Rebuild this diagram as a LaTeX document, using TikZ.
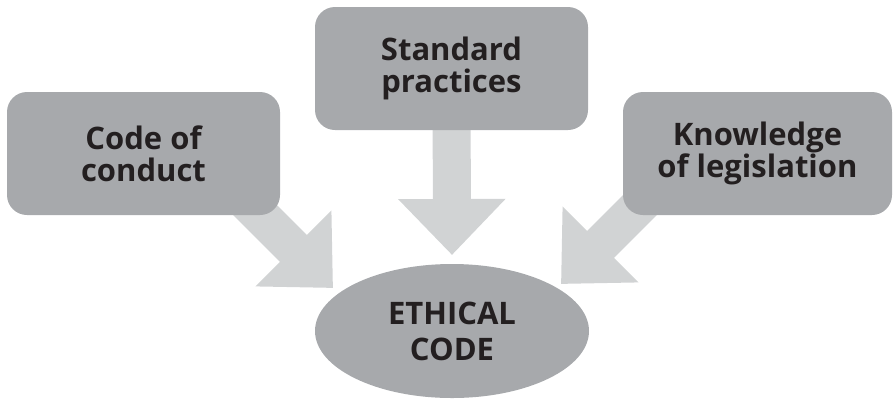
\documentclass[tikz,border=0pt]{standalone}
\usepackage{fontspec}
\setmainfont{Open Sans}
\usetikzlibrary{arrows.meta,backgrounds,calc,shapes.geometric}
\definecolor{boxgray}{HTML}{A7A9AC}
\definecolor{arrowgray}{HTML}{D1D3D4}
\definecolor{inkblack}{HTML}{231F20}

\begin{document}
\begin{tikzpicture}[x=1pt, y=-1pt,
    cause/.style={rectangle, rounded corners=20pt, fill=boxgray, text=inkblack,
      minimum width=273pt, minimum height=123pt, align=center,
      font=\fontsize{31}{32}\selectfont\bfseries},
    core/.style={ellipse, fill=boxgray, text=inkblack, inner sep=0pt,
      minimum width=274pt, minimum height=134pt, align=center,
      font=\fontsize{31}{36}\selectfont\bfseries},
    fatarrow/.style={arrowgray, line width=38pt,
      -{Triangle[length=56pt, width=104pt]}}]
    \useasboundingbox (0, 0) rectangle (893, 400);

    \node [cause] (cond) at (143.5, 153.5) {Code of\\conduct};
    \node [cause] (std) at (451.5, 68.5) {Standard\\practices};
    \node [cause, minimum width=269pt] (legis) at (757.5, 153.5) {Knowledge\\of legislation};
    \node [core] (ethic) at (452, 331) {ETHICAL\\CODE};

    \coordinate (tipC) at (333, 288);
    \coordinate (tipS) at (452, 255);
    \coordinate (tipL) at (561, 284);

    \begin{scope}[on background layer]
      \draw [fatarrow] ($(cond.center)+(55, 0)$) -- (tipC);
      \draw [fatarrow] (std.center) -- (tipS);
      \draw [fatarrow] ($(legis.center)+(-66, 0)$) -- (tipL);
    \end{scope}
\end{tikzpicture}
\end{document}
